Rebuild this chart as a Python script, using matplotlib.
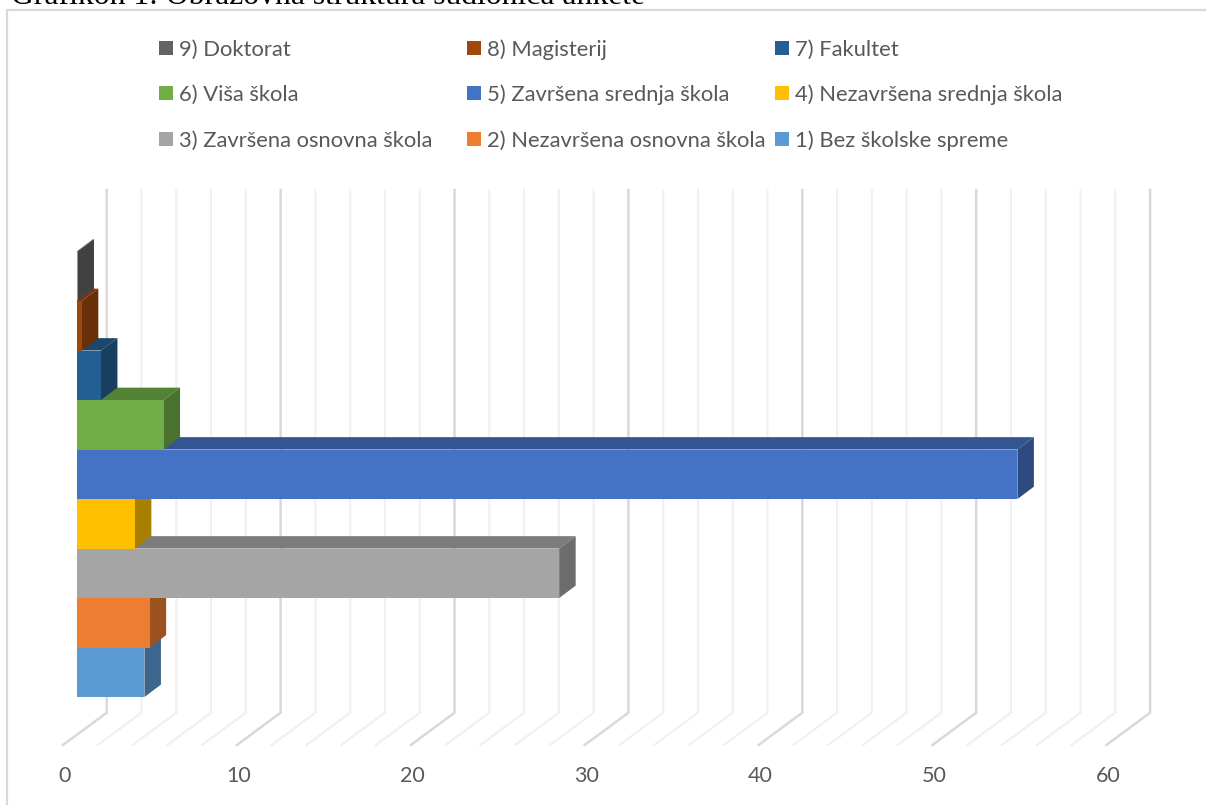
import matplotlib
matplotlib.use('Agg')
import matplotlib.pyplot as plt
from matplotlib.colors import to_rgb
from matplotlib.patches import Rectangle

W, H = 1206, 805

# Data, bottom bar first
labels = ['1) Bez školske spreme', '2) Nezavršena osnovna škola', '3) Završena osnovna škola',
          '4) Nezavršena srednja škola', '5) Završena srednja škola', '6) Viša škola',
          '7) Fakultet', '8) Magisterij', '9) Doktorat']
values = [3.9, 4.2, 27.75, 3.35, 54.1, 5.0, 1.4, 0.3, 0.05]
colors = ['#5B9BD5', '#ED7D31', '#A5A5A5', '#FFC000', '#4472C4', '#70AD47', '#255E91', '#9E480E', '#636363']
major_ticks = [0, 10, 20, 30, 40, 50, 60]
minor_ticks = [v for v in range(0, 61, 2) if v % 10 != 0]

# Pixel scales of the fake 3D layout
px_x = 17.39
px_y = 49.5
floor_y = 745
depth_x = 16.5 / px_x
depth_y = 12.4 / px_y
bar_left = 13.6 / px_x
wall_x = 43.7 / px_x
wall_y = 32.3 / px_y


def shade(c, f):
    return tuple(a * f for a in to_rgb(c))


plt.rcParams['font.family'] = ['Lato', 'DejaVu Sans']
fig = plt.figure(figsize=(W / 100, H / 100), dpi=100)
ax = fig.add_axes([0, (H - floor_y) / H, 1, floor_y / H])
ax.set_xlim(-63 / px_x, (W - 63) / px_x)
ax.set_ylim((672.3 - floor_y) / px_y, 672.3 / px_y)
for s in ax.spines.values():
    s.set_visible(False)
ax.set_yticks([])
ax.set_xticks([v + 0.1 for v in major_ticks])
ax.set_xticklabels([str(v) for v in major_ticks])
ax.tick_params(axis='x', length=0, pad=15, labelsize=15.5, labelcolor='#595959')

# Floor and wall gridlines
y0 = ax.get_ylim()[0]
y_top = (672.3 - 190) / px_y
for ticks, col, lw in [(minor_ticks, '#F0F0F0', 1.5), (major_ticks, '#D9D9D9', 1.8)]:
    for v in ticks:
        ax.plot([v, v + wall_x, v + wall_x], [y0, y0 + wall_y, y_top], color=col, lw=lw,
                zorder=1, solid_joinstyle='miter', clip_on=False)

# Bars, higher categories sit on top of the lower ones
for i, (val, col) in enumerate(zip(values, colors)):
    z = 2 + i
    x1 = bar_left + val
    ytop = i + 0.5
    ybot = i - 0.5
    ax.fill([bar_left, x1, x1 + depth_x, bar_left + depth_x],
            [ytop, ytop, ytop + depth_y, ytop + depth_y], color=shade(col, 0.75), lw=0, zorder=z)
    ax.fill([x1, x1 + depth_x, x1 + depth_x, x1],
            [ybot, ybot + depth_y, ytop + depth_y, ytop], color=shade(col, 0.66), lw=0, zorder=z)
    ax.barh(i, val, height=1, left=bar_left, color=col, lw=0, zorder=z)

# Legend, laid out by hand in the original order
legend_x = [159, 467, 775]
legend_y = [48, 93, 139]
for n, i in enumerate(range(8, -1, -1)):
    x = legend_x[n % 3]
    y = legend_y[n // 3]
    fig.add_artist(Rectangle((x / W, 1 - (y + 7) / H), 14 / W, 14 / H, color=colors[i], lw=0,
                             transform=fig.transFigure))
    fig.text((x + 20) / W, 1 - y / H, labels[i], fontsize=15.85, color='#595959', va='center_baseline')

# Chart frame: only the left and top edges are inside the crop
fig.add_artist(plt.Line2D([6.5 / W, 6.5 / W, 1], [0, 1 - 10.5 / H, 1 - 10.5 / H], color='#D9D9D9', lw=1.6))

# Caption above the chart, cut by the crop
fig.text(11 / W, 1 - 4 / H, 'Grafikon 1: Obrazovna struktura sudionica ankete', family='Liberation Serif',
         fontsize=22.8, color='black', va='baseline')

fig.savefig('out.png', dpi=100)
